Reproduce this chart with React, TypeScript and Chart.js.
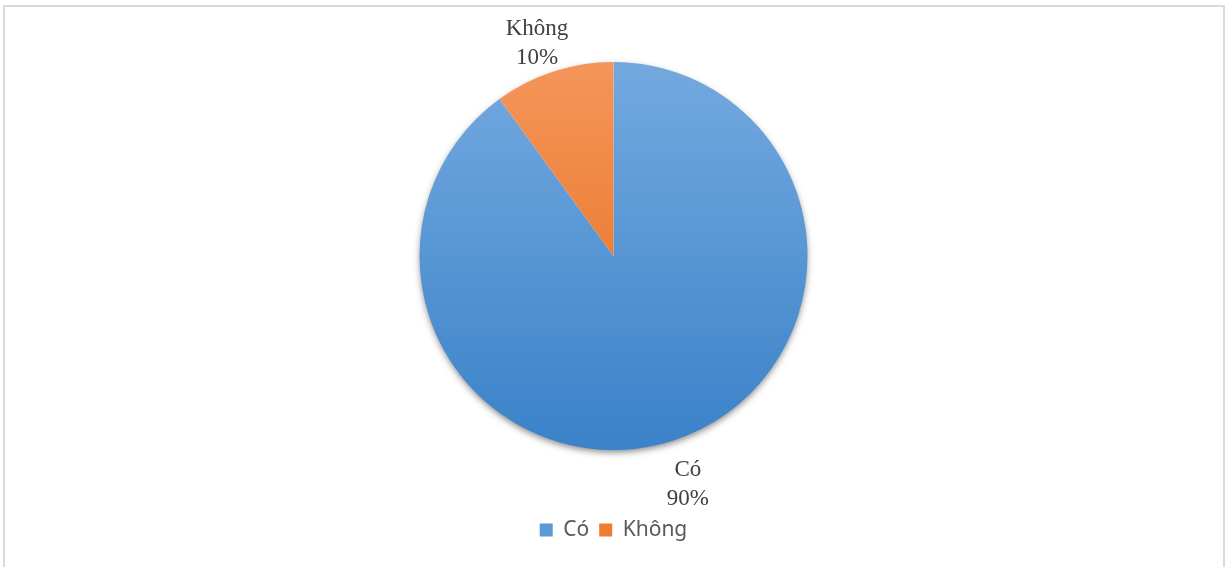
import React, { useEffect, useRef } from "react";
import { Chart, registerables } from "chart.js";

Chart.register(...registerables);

const categories = ["Có", "Không"];
const values = [90, 10];
const percentLabels = ["90%", "10%"];

const gradientTop = ["#74a9df", "#f5955a"];
const gradientBottom = ["#3a82c9", "#e46a16"];
const legendColors = ["#5b9bd5", "#ed7d31"];
const labelOffsetX = [14.5, -16.5];
const labelOffsetY = [43.5, -29];

const PIE_RADIUS = 194;

const shadowPlugin = {
  id: "pieShadow",
  beforeDatasetsDraw(chart: any) {
    const meta = chart.getDatasetMeta(0);
    const arc = meta.data[0];
    if (!arc) return;
    const { x, y, outerRadius } = arc.getProps(["x", "y", "outerRadius"], true);
    const ctx = chart.ctx;
    ctx.save();
    ctx.shadowColor = "rgba(0,0,0,0.5)";
    ctx.shadowBlur = 7;
    ctx.shadowOffsetX = 0;
    ctx.shadowOffsetY = 3;
    ctx.fillStyle = "#ffffff";
    ctx.beginPath();
    ctx.arc(x, y, outerRadius - 1, 0, Math.PI * 2);
    ctx.fill();
    ctx.restore();
  },
};

const outsideLabels = {
  id: "outsideLabels",
  afterDatasetsDraw(chart: any) {
    const meta = chart.getDatasetMeta(0);
    const ctx = chart.ctx;
    ctx.save();
    ctx.font = '23px "Liberation Serif", "Times New Roman", serif';
    ctx.fillStyle = "#404040";
    ctx.textAlign = "center";
    ctx.textBaseline = "middle";
    meta.data.forEach((arc: any, i: number) => {
      const { x, y, startAngle, endAngle, outerRadius } = arc.getProps(
        ["x", "y", "startAngle", "endAngle", "outerRadius"],
        true
      );
      const mid = (startAngle + endAngle) / 2;
      const ax = x + Math.cos(mid) * outerRadius;
      const ay = y + Math.sin(mid) * outerRadius;
      const cx = ax + labelOffsetX[i];
      const cy = ay + labelOffsetY[i];
      ctx.fillText(categories[i], cx, cy - 14);
      ctx.fillText(percentLabels[i], cx, cy + 15);
    });
    ctx.restore();
  },
};

export default function App() {
  const canvasRef = useRef<HTMLCanvasElement | null>(null);

  useEffect(() => {
    if (!canvasRef.current) return;
    const makeGradient = (context: any) => {
      const chart = context.chart;
      const i = context.dataIndex ?? 0;
      const area = chart.chartArea;
      if (!area) return legendColors[i];
      const cy = (area.top + area.bottom) / 2;
      const g = chart.ctx.createLinearGradient(0, cy - PIE_RADIUS, 0, cy + PIE_RADIUS);
      g.addColorStop(0, gradientTop[i]);
      g.addColorStop(1, gradientBottom[i]);
      return g;
    };
    const chart = new Chart(canvasRef.current, {
      type: "pie",
      data: {
        labels: categories,
        datasets: [
          {
            data: values,
            backgroundColor: makeGradient,
            borderWidth: 0,
          },
        ],
      },
      options: {
        animation: false,
        responsive: false,
        radius: PIE_RADIUS,
        layout: { padding: { top: 2.5, bottom: 16.5, left: 0, right: 0 } },
        plugins: {
          tooltip: { enabled: false },
          legend: {
            display: true,
            position: "bottom",
            labels: {
              boxWidth: 13,
              boxHeight: 13,
              padding: 10,
              color: "#595959",
              font: { family: '"Noto Sans", "Open Sans", sans-serif', size: 21 },
              generateLabels: (c: any) => {
                const items = Chart.overrides.pie.plugins.legend.labels.generateLabels(c);
                return items.map((it: any, i: number) => ({
                  ...it,
                  fillStyle: legendColors[i],
                  strokeStyle: legendColors[i],
                  lineWidth: 0,
                }));
              },
            },
          },
        },
      } as any,
      plugins: [shadowPlugin, outsideLabels],
    });
    return () => chart.destroy();
  }, []);

  return (
    <div
      style={{
        position: "fixed",
        left: 0,
        top: 0,
        width: 1227,
        height: 567,
        background: "#ffffff",
        overflow: "hidden",
      }}
    >
      <div
        style={{
          position: "absolute",
          left: 3,
          top: 5,
          width: 1222,
          height: 600,
          border: "2px solid #dadada",
          boxSizing: "border-box",
        }}
      />
      <canvas
        ref={canvasRef}
        width={1227}
        height={567}
        style={{ position: "absolute", left: 0, top: 0, width: 1227, height: 567 }}
      />
    </div>
  );
}
